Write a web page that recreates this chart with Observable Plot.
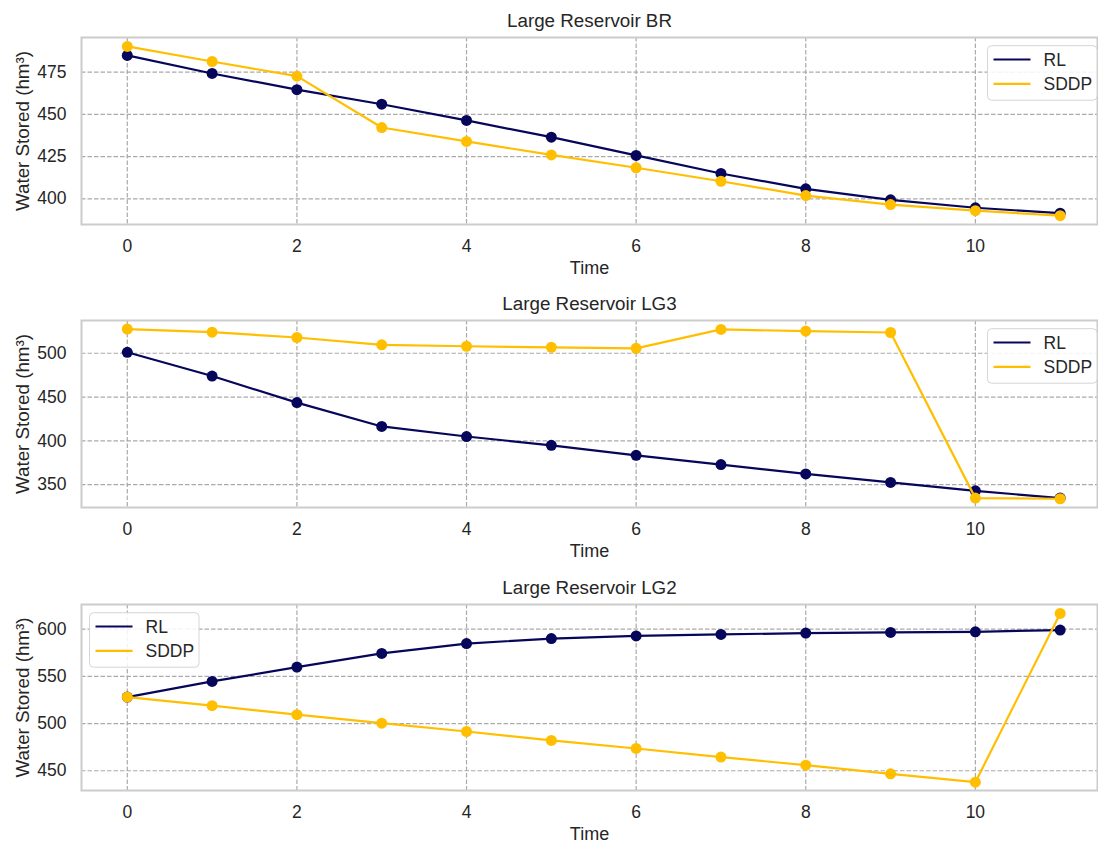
<!DOCTYPE html>
<html>
<head>
<meta charset="utf-8">
<script src="https://cdn.jsdelivr.net/npm/d3@7"></script>
<script src="https://cdn.jsdelivr.net/npm/@observablehq/plot@0.6"></script>
<style>
  html, body { margin: 0; padding: 0; background: #fff; }
  #chart { width: 1098px; height: 844px; overflow: hidden; }
  #chart svg { display: block; }
</style>
</head>
<body>
<div id="chart"></div>
<script>
const time = [0, 1, 2, 3, 4, 5, 6, 7, 8, 9, 10, 11];
const series = ["RL", "SDDP"];
const titles = ["Large Reservoir BR", "Large Reservoir LG3", "Large Reservoir LG2"];

const brRL   = [484.9, 474.2, 464.6, 456.0, 446.4, 436.5, 425.7, 415.0, 405.9, 399.4, 394.7, 391.5];
const brSDDP = [490.2, 481.3, 472.6, 442.2, 434.0, 426.0, 418.4, 410.4, 401.9, 396.6, 393.0, 390.0];

const lg3RL   = [501.1, 474.0, 443.7, 416.5, 405.0, 395.0, 383.5, 373.0, 362.3, 352.6, 343.0, 334.7];
const lg3SDDP = [527.6, 524.1, 518.0, 509.6, 508.0, 506.8, 505.6, 527.2, 525.3, 523.7, 334.7, 334.0];

const lg2RL   = [528.0, 544.6, 559.8, 574.3, 584.7, 590.0, 592.8, 594.4, 595.8, 596.5, 597.2, 599.0];
const lg2SDDP = [528.0, 518.9, 509.4, 500.4, 491.6, 482.1, 473.6, 464.5, 455.9, 446.8, 437.9, 616.6];

const xTicks = [0, 2, 4, 6, 8, 10];
const yTicksBR = [400, 425, 450, 475];
const yTicksLG3 = [350, 400, 450, 500];
const yTicksLG2 = [450, 500, 550, 600];

const colors = {RL: "#06065a", SDDP: "#ffbf00"};
const FONT = "'Liberation Sans', Arial, Helvetica, sans-serif";
const TEXT = "#262626";

function rows(rl, sddp) {
  const out = [];
  time.forEach((t, i) => out.push({t, v: rl[i], s: "RL"}));
  time.forEach((t, i) => out.push({t, v: sddp[i], s: "SDDP"}));
  return out;
}

const panels = [
  {title: titles[0], data: rows(brRL, brSDDP), yDomain: [384.8, 495.5], yTicks: yTicksBR, height: 283, mt: 37, mb: 59, legend: "right"},
  {title: titles[1], data: rows(lg3RL, lg3SDDP), yDomain: [324, 537.4], yTicks: yTicksLG3, height: 283, mt: 37, mb: 59, legend: "right"},
  {title: titles[2], data: rows(lg2RL, lg2SDDP), yDomain: [429.1, 626.1], yTicks: yTicksLG2, height: 278, mt: 38, mb: 54, legend: "left"}
];

const chart = document.getElementById("chart");

panels.forEach(p => {
  const rlData = p.data.filter(d => d.s === "RL");
  const sdData = p.data.filter(d => d.s === "SDDP");
  const svg = Plot.plot({
    width: 1098,
    height: p.height,
    marginLeft: 81,
    marginRight: 1,
    marginTop: p.mt,
    marginBottom: p.mb,
    style: {fontFamily: FONT, fontSize: "17.5px", color: TEXT, background: "#fff"},
    x: {domain: [-0.54, 11.44], label: null},
    y: {domain: p.yDomain, label: null},
    marks: [
      Plot.gridX(xTicks, {stroke: "#aaaaaa", strokeOpacity: 1, strokeWidth: 1.2, strokeDasharray: "4.5,2"}),
      Plot.gridY(p.yTicks, {stroke: "#aaaaaa", strokeOpacity: 1, strokeWidth: 1.2, strokeDasharray: "4.5,2"}),
      Plot.frame({stroke: "#cccccc", strokeWidth: 2}),
      Plot.axisX(xTicks, {tickSize: 0, tickPadding: 15, label: null, fill: TEXT, fontSize: 17.5}),
      Plot.axisY(p.yTicks, {tickSize: 0, tickPadding: 15, label: null, fill: TEXT, fontSize: 17.5}),
      Plot.line(rlData, {x: "t", y: "v", stroke: colors.RL, strokeWidth: 2.2}),
      Plot.dot(rlData, {x: "t", y: "v", fill: colors.RL, r: 5.5}),
      Plot.line(sdData, {x: "t", y: "v", stroke: colors.SDDP, strokeWidth: 2.2}),
      Plot.dot(sdData, {x: "t", y: "v", fill: colors.SDDP, r: 5.5}),
      Plot.text([p.title], {frameAnchor: "top", dy: -17, fontSize: 18.8, fill: TEXT, textAnchor: "middle", lineAnchor: "middle"}),
      Plot.text(["Time"], {frameAnchor: "bottom", dy: 44, fontSize: 18, fill: TEXT, textAnchor: "middle", lineAnchor: "middle"}),
      Plot.text(["Water Stored (hm³)"], {frameAnchor: "left", dx: -59, rotate: -90, fontSize: 18.8, fill: TEXT, textAnchor: "middle", lineAnchor: "middle"})
    ]
  });

  // legend
  const g = d3.select(svg).append("g").attr("font-family", FONT).attr("font-size", 17.5).attr("text-anchor", "start");
  const bx = p.legend === "right" ? 987.5 : 89.5;
  const by = p.mt + 8.7;
  const lx1 = bx + 6, lx2 = bx + 43, tx = bx + 56;
  g.append("rect").attr("x", bx).attr("y", by).attr("width", 109.5).attr("height", 54.5)
    .attr("rx", 4).attr("fill", "#fff").attr("fill-opacity", 0.85).attr("stroke", "#d6d6d6").attr("stroke-width", 1);
  series.forEach((s, i) => {
    const yy = p.mt + 22.5 + i * 24.3;
    g.append("line").attr("x1", lx1).attr("x2", lx2).attr("y1", yy).attr("y2", yy)
      .attr("stroke", colors[s]).attr("stroke-width", 2.2);
    g.append("text").attr("x", tx).attr("y", yy).attr("dy", "0.35em").attr("fill", TEXT).text(s);
  });

  chart.appendChild(svg);
});
</script>
</body>
</html>
